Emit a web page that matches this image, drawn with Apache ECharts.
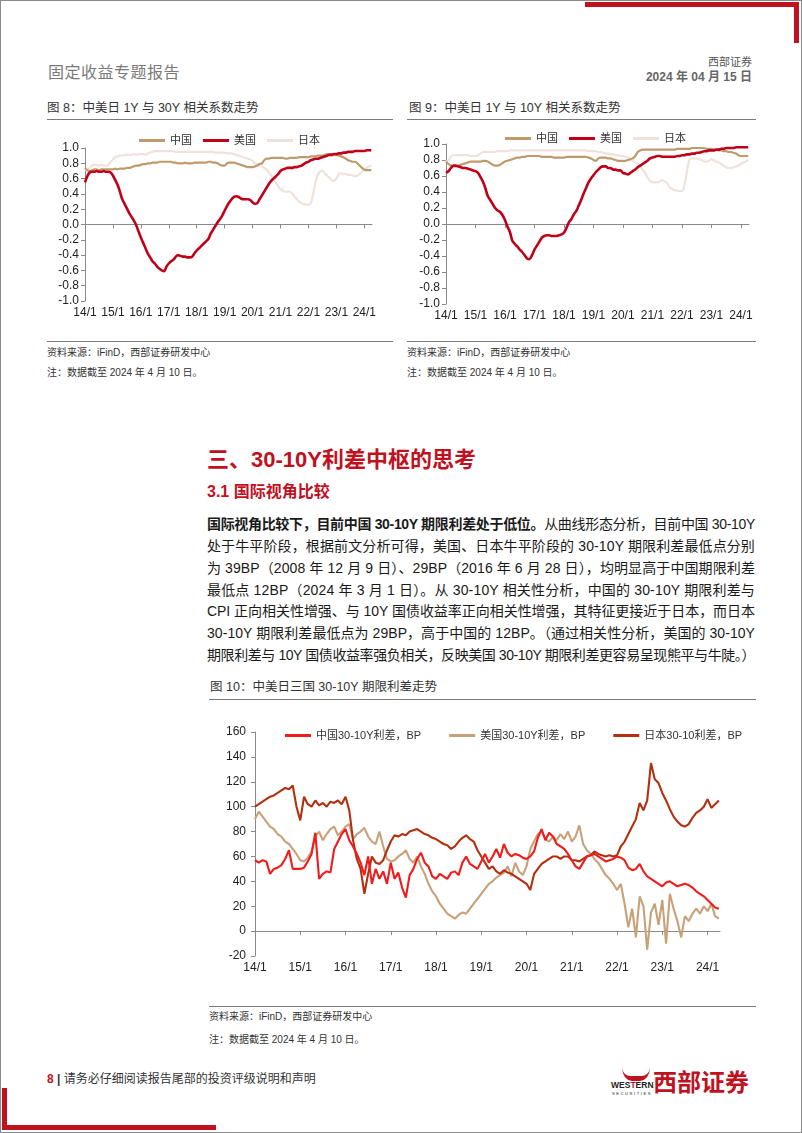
<!DOCTYPE html>
<html><head><meta charset="utf-8">
<script src="https://cdn.jsdelivr.net/npm/echarts@6/dist/echarts.min.js"></script>
<style>
html,body{margin:0;padding:0;background:#fff;}
#page{position:relative;width:802px;height:1133px;overflow:hidden;font-family:"Liberation Sans","Noto Sans CJK SC",sans-serif;color:#222;background:#fff;}
.abs{position:absolute;white-space:nowrap;}
.rule{position:absolute;height:1px;background:#7a7a7a;}
.red{position:absolute;background:#C0111F;}
.src{position:absolute;font-size:10px;line-height:12px;color:#333;white-space:nowrap;}
.ftitle{position:absolute;font-size:12.5px;line-height:16px;color:#333;white-space:nowrap;}
.pl{position:absolute;left:207px;font-size:14px;line-height:22px;color:#1a1a1a;white-space:nowrap;display:inline-block;}
.chart{position:absolute;}
</style></head>
<body><div id="page">
<div style="position:absolute;left:0;top:0;width:800px;height:1131px;border:1px solid #8a8a8a;"></div>
<div class="red" style="left:585px;top:2px;width:214px;height:5px;"></div>
<div class="red" style="left:794px;top:2px;width:5px;height:41px;"></div>
<div class="red" style="left:2px;top:1088px;width:5px;height:42px;"></div>
<div class="red" style="left:2px;top:1125px;width:214px;height:5px;"></div>

<div class="abs" style="left:48px;top:63px;font-size:16px;line-height:20px;color:#7a7a7a;letter-spacing:0.5px;">固定收益专题报告</div>
<div class="abs" style="right:50px;top:55px;font-size:11px;line-height:14px;color:#555;">西部证券</div>
<div class="abs" style="right:50px;top:70px;font-size:12px;line-height:14px;color:#666;font-weight:bold;">2024 年 04 月 15 日</div>

<div class="ftitle" style="left:47px;top:100px;">图 8：中美日 1Y 与 30Y 相关系数走势</div>
<div class="rule" style="left:47px;top:119px;width:346px;"></div>
<div class="ftitle" style="left:409px;top:100px;">图 9：中美日 1Y 与 10Y 相关系数走势</div>
<div class="rule" style="left:407px;top:119px;width:349px;"></div>

<div id="c8" class="chart" style="left:40px;top:125px;width:360px;height:205px;"></div>
<div id="c9" class="chart" style="left:400px;top:125px;width:400px;height:205px;"></div>

<div class="rule" style="left:47px;top:341px;width:346px;"></div>
<div class="rule" style="left:407px;top:341px;width:349px;"></div>
<div class="src" style="left:47px;top:347px;">资料来源：iFinD，西部证券研发中心</div>
<div class="src" style="left:47px;top:367px;">注：数据截至 2024 年 4 月 10 日。</div>
<div class="src" style="left:407px;top:347px;">资料来源：iFinD，西部证券研发中心</div>
<div class="src" style="left:407px;top:367px;">注：数据截至 2024 年 4 月 10 日。</div>

<div class="abs" style="left:207px;top:447px;font-size:22px;line-height:26px;color:#C0111F;font-weight:bold;">三、30-10Y利差中枢的思考</div>
<div class="abs" style="left:207px;top:482px;font-size:16px;line-height:20px;color:#C0111F;font-weight:bold;">3.1 国际视角比较</div>

<div class="pl jl" style="top:513px;"><b>国际视角比较下，目前中国 30-10Y 期限利差处于低位。</b>从曲线形态分析，目前中国 30-10Y</div>
<div class="pl jl" style="top:535px;">处于牛平阶段，根据前文分析可得，美国、日本牛平阶段的 30-10Y 期限利差最低点分别</div>
<div class="pl jl" style="top:557px;">为 39BP（2008 年 12 月 9 日）、29BP（2016 年 6 月 28 日），均明显高于中国期限利差</div>
<div class="pl jl" style="top:579px;">最低点 12BP（2024 年 3 月 1 日）。从 30-10Y 相关性分析，中国的 30-10Y 期限利差与</div>
<div class="pl jl" style="top:600px;">CPI 正向相关性增强、与 10Y 国债收益率正向相关性增强，其特征更接近于日本，而日本</div>
<div class="pl jl" style="top:622px;">30-10Y 期限利差最低点为 29BP，高于中国的 12BP。（通过相关性分析，美国的 30-10Y</div>
<div class="pl jl" style="top:644px;">期限利差与 10Y 国债收益率强负相关，反映美国 30-10Y 期限利差更容易呈现熊平与牛陡。）</div>

<div class="ftitle" style="left:210px;top:679px;">图 10：中美日三国 30-10Y 期限利差走势</div>
<div class="rule" style="left:209px;top:699px;width:547px;"></div>
<div id="c10" class="chart" style="left:200px;top:705px;width:560px;height:285px;"></div>
<div class="rule" style="left:209px;top:1006px;width:547px;"></div>
<div class="src" style="left:209px;top:1011px;">资料来源：iFinD，西部证券研发中心</div>
<div class="src" style="left:209px;top:1034px;">注：数据截至 2024 年 4 月 10 日。</div>

<div class="abs" style="left:47px;top:1071px;font-size:12px;line-height:16px;color:#333;"><span style="color:#C0111F;font-weight:bold;">8</span> <b>|</b> 请务必仔细阅读报告尾部的投资评级说明和声明</div>

<svg style="position:absolute;left:608px;top:1064px;" width="150" height="34" viewBox="0 0 150 34">
  <path d="M14 4 Q16 13 24 12 L32 12 Q40 13 42 4 Q41 16 32 17 L24 17 Q15 16 14 4 Z" fill="#C0111F"/>
  <text x="3" y="24" font-family="Liberation Sans" font-weight="bold" font-size="8.5" fill="#222">WES<tspan fill="#C0111F">T</tspan>ERN</text>
  <text x="4" y="31" font-family="Liberation Sans" font-size="4" fill="#222" letter-spacing="1.6">SECURITIES</text>
  <text x="45" y="27" font-family="Noto Sans CJK SC" font-weight="bold" font-size="24" fill="#C0111F">西部证券</text>
</svg>
</div>

<script>
// ---------- data (monthly, 2014-01 .. 2024-04) ----------
const xTickLabels = ['14/1','15/1','16/1','17/1','18/1','19/1','20/1','21/1','22/1','23/1','24/1'];
const xTickYears = [2014,2015,2016,2017,2018,2019,2020,2021,2022,2023,2024];

// Fig 8: 1Y vs 30Y correlation
const fig8China = [0.74,0.71,0.70,0.71,0.72,0.72,0.71,0.72,0.72,0.72,
0.72,0.72,0.72,0.73,0.72,0.73,0.73,0.73,0.74,0.74,
0.75,0.76,0.77,0.77,0.78,0.79,0.79,0.80,0.80,0.81,
0.81,0.81,0.82,0.82,0.82,0.82,0.82,0.82,0.81,0.81,
0.80,0.80,0.80,0.81,0.80,0.80,0.80,0.81,0.81,0.81,
0.81,0.81,0.81,0.82,0.82,0.81,0.81,0.80,0.78,0.77,
0.77,0.80,0.81,0.81,0.81,0.80,0.79,0.78,0.77,0.76,
0.75,0.75,0.75,0.76,0.77,0.79,0.80,0.84,0.86,0.86,
0.87,0.87,0.87,0.87,0.87,0.87,0.86,0.86,0.87,0.87,
0.87,0.87,0.88,0.88,0.88,0.88,0.88,0.89,0.89,0.89,
0.90,0.90,0.90,0.91,0.92,0.92,0.92,0.92,0.91,0.90,
0.89,0.88,0.86,0.84,0.83,0.82,0.82,0.80,0.77,0.74,
0.72,0.71,0.71,0.71];
const fig8US = [0.55,0.63,0.68,0.69,0.69,0.70,0.69,0.69,0.70,0.69,
0.69,0.68,0.64,0.58,0.52,0.43,0.33,0.27,0.21,0.15,
0.10,0.05,-0.01,-0.09,-0.17,-0.24,-0.31,-0.38,-0.43,-0.48,
-0.51,-0.55,-0.58,-0.60,-0.61,-0.55,-0.51,-0.48,-0.46,-0.42,
-0.40,-0.41,-0.42,-0.42,-0.43,-0.43,-0.42,-0.38,-0.34,-0.31,
-0.28,-0.25,-0.22,-0.19,-0.12,-0.07,-0.02,0.03,0.07,0.12,
0.18,0.24,0.29,0.33,0.36,0.37,0.36,0.34,0.33,0.33,
0.33,0.32,0.29,0.27,0.28,0.33,0.38,0.43,0.48,0.53,
0.57,0.60,0.63,0.66,0.70,0.72,0.73,0.74,0.74,0.74,
0.75,0.75,0.76,0.77,0.79,0.81,0.82,0.84,0.85,0.86,
0.86,0.87,0.88,0.89,0.90,0.91,0.91,0.92,0.92,0.93,
0.93,0.94,0.94,0.95,0.95,0.95,0.96,0.96,0.96,0.96,
0.96,0.97,0.97,0.97];
const fig8Japan = [0.73,0.70,0.74,0.77,0.78,0.78,0.77,0.78,0.77,0.77,
0.78,0.82,0.85,0.88,0.89,0.90,0.90,0.91,0.91,0.91,
0.91,0.92,0.91,0.92,0.92,0.92,0.91,0.93,0.94,0.95,
0.96,0.96,0.96,0.96,0.96,0.96,0.96,0.96,0.96,0.95,
0.95,0.95,0.95,0.95,0.95,0.95,0.95,0.95,0.95,0.95,
0.95,0.95,0.95,0.95,0.95,0.95,0.94,0.94,0.94,0.94,
0.94,0.93,0.93,0.93,0.92,0.91,0.90,0.89,0.88,0.87,
0.86,0.85,0.83,0.80,0.79,0.78,0.76,0.74,0.72,0.68,
0.64,0.60,0.55,0.50,0.46,0.44,0.43,0.43,0.43,0.40,
0.37,0.33,0.30,0.28,0.27,0.26,0.26,0.28,0.40,0.55,
0.65,0.69,0.70,0.67,0.64,0.61,0.58,0.57,0.60,0.66,
0.67,0.66,0.66,0.65,0.65,0.64,0.63,0.64,0.66,0.69,
0.72,0.74,0.76,0.77];

// Fig 9: 1Y vs 10Y correlation
const fig9China = [0.78,0.75,0.73,0.72,0.72,0.73,0.74,0.75,0.76,0.77,
0.78,0.78,0.78,0.78,0.78,0.79,0.79,0.78,0.76,0.74,
0.73,0.73,0.74,0.76,0.78,0.79,0.80,0.81,0.82,0.83,
0.83,0.84,0.84,0.85,0.85,0.85,0.85,0.85,0.85,0.84,
0.84,0.84,0.84,0.84,0.83,0.83,0.83,0.83,0.83,0.84,
0.84,0.84,0.84,0.84,0.84,0.84,0.84,0.84,0.83,0.82,
0.80,0.79,0.82,0.83,0.83,0.83,0.82,0.82,0.81,0.80,
0.79,0.79,0.79,0.79,0.80,0.81,0.82,0.85,0.90,0.92,
0.93,0.93,0.93,0.93,0.93,0.93,0.93,0.93,0.93,0.93,
0.93,0.93,0.93,0.93,0.94,0.94,0.94,0.94,0.94,0.94,
0.95,0.95,0.95,0.95,0.95,0.95,0.94,0.94,0.94,0.93,
0.93,0.92,0.92,0.91,0.91,0.90,0.90,0.89,0.88,0.86,
0.85,0.85,0.85,0.85];
const fig9US = [0.64,0.66,0.70,0.73,0.73,0.72,0.71,0.70,0.70,0.69,
0.68,0.67,0.66,0.64,0.59,0.53,0.45,0.35,0.30,0.25,
0.20,0.17,0.15,0.11,0.05,-0.03,-0.10,-0.21,-0.25,-0.28,
-0.32,-0.35,-0.39,-0.43,-0.44,-0.39,-0.32,-0.27,-0.22,-0.17,
-0.15,-0.14,-0.14,-0.15,-0.15,-0.15,-0.14,-0.13,-0.11,-0.05,
0.02,0.06,0.12,0.16,0.23,0.30,0.38,0.45,0.52,0.57,
0.61,0.65,0.68,0.71,0.72,0.72,0.70,0.70,0.68,0.68,
0.67,0.67,0.64,0.63,0.62,0.64,0.66,0.68,0.71,0.73,
0.75,0.77,0.79,0.82,0.83,0.84,0.85,0.85,0.84,0.84,
0.84,0.84,0.84,0.84,0.85,0.85,0.86,0.86,0.87,0.87,
0.88,0.88,0.89,0.89,0.90,0.91,0.91,0.92,0.92,0.92,
0.93,0.93,0.94,0.94,0.95,0.95,0.95,0.95,0.96,0.96,
0.96,0.96,0.96,0.96];
const fig9Japan = [0.78,0.80,0.84,0.86,0.86,0.86,0.86,0.86,0.86,0.86,
0.85,0.85,0.85,0.86,0.88,0.90,0.90,0.90,0.90,0.90,
0.90,0.91,0.91,0.91,0.91,0.91,0.92,0.92,0.92,0.92,
0.92,0.92,0.92,0.92,0.92,0.92,0.92,0.92,0.92,0.92,
0.92,0.92,0.92,0.92,0.92,0.92,0.92,0.92,0.92,0.92,
0.92,0.92,0.92,0.92,0.92,0.92,0.92,0.92,0.91,0.91,
0.91,0.91,0.90,0.90,0.89,0.88,0.88,0.87,0.87,0.86,
0.86,0.85,0.85,0.84,0.83,0.81,0.79,0.77,0.75,0.72,
0.68,0.64,0.58,0.54,0.52,0.52,0.52,0.53,0.55,0.53,
0.51,0.46,0.44,0.42,0.42,0.41,0.41,0.48,0.65,0.80,
0.82,0.82,0.82,0.81,0.80,0.78,0.78,0.79,0.81,0.80,
0.78,0.77,0.75,0.73,0.71,0.70,0.70,0.71,0.72,0.73,
0.75,0.77,0.78,0.80];

// Fig 10: 30-10Y spreads, BP
const fig10China = [57,55,57,56,46,50,51,53,58,65,
50,50,50,51,56,62,79,42,46,48,
47,66,72,78,82,73,68,62,55,45,
60,38,50,42,48,38,55,42,47,35,
27,45,50,58,63,55,52,44,42,46,
44,42,47,48,45,55,60,54,52,50,
56,62,55,60,66,59,70,63,60,62,
61,59,58,60,64,75,82,73,79,76,
70,68,66,62,57,52,50,55,60,61,
62,60,58,56,57,58,60,59,57,51,
49,50,54,48,44,42,40,38,36,39,
40,38,36,37,38,37,35,32,30,28,
25,22,19,18];
const fig10US = [90,96,92,88,84,82,78,76,72,70,
66,62,57,56,59,64,76,80,73,78,
82,84,77,80,84,86,74,78,80,83,
76,72,70,80,68,58,56,57,60,62,
65,58,55,60,52,46,38,32,28,22,
18,14,12,10,13,15,14,18,22,26,
30,34,38,40,43,45,47,52,44,55,
48,45,52,66,72,78,80,74,72,76,
73,78,74,80,72,76,85,70,65,62,
58,55,50,45,42,38,33,38,22,3,
18,-5,28,20,-15,15,22,5,25,-10,
30,18,8,-5,12,8,14,18,14,20,
16,22,12,10];
const fig10Japan = [100,102,104,106,108,109,111,113,115,114,
117,100,89,108,102,100,105,101,103,100,
104,103,105,102,108,97,73,58,50,30,
46,60,55,54,57,65,72,77,76,78,
77,80,81,82,80,78,77,75,74,72,
70,69,66,68,72,75,77,74,72,65,
60,55,50,52,48,46,49,47,46,44,
42,40,38,33,46,50,54,56,58,60,
60,58,60,60,57,57,56,58,60,61,
64,62,61,60,61,60,61,68,72,78,
84,90,103,97,105,135,122,119,111,105,
98,92,88,85,84,86,91,95,97,100,
106,99,102,105];

const FONT = '"Liberation Sans","Noto Sans CJK SC",sans-serif';
const X_MIN = 2014, X_MAX = 2014 + 123.3/12;
const toPairs = arr => arr.map((v,i) => [2014 + i/12, v]);

function build(o){
  const axisColor = '#8a8a8a';
  return {
    animation:false,
    textStyle:{fontFamily:FONT},
    legend:{top:o.legTop,left:o.legLeft,itemWidth:26,itemHeight:3,itemGap:o.legGap,icon:'rect',
      textStyle:{fontSize:o.legFont,color:'#333',fontFamily:FONT},data:o.series.map(s=>s.name)},
    grid:{left:o.gl,top:o.gt,width:o.gw,height:o.gh},
    xAxis:[
      {type:'value',min:X_MIN,max:X_MAX,position:'bottom',
       axisLine:{show:false,onZero:false},axisTick:{show:false},splitLine:{show:false},
       axisLabel:{customValues:xTickYears,formatter:v=>xTickLabels[Math.round(v)-2014]||'',
         fontSize:12,color:'#222',margin:6,fontFamily:FONT}},
      {type:'value',min:X_MIN,max:X_MAX,position:'bottom',
       axisLine:{show:true,onZero:true,lineStyle:{color:axisColor,width:1}},
       axisTick:{show:true,customValues:xTickYears,length:4,lineStyle:{color:axisColor}},
       axisLabel:{show:false},splitLine:{show:false}}
    ],
    yAxis:{type:'value',min:o.ymin,max:o.ymax,interval:o.yint,
      axisLine:{show:true,lineStyle:{color:axisColor,width:1}},
      axisTick:{show:true,length:4,lineStyle:{color:axisColor}},
      splitLine:{show:false},
      axisLabel:{formatter:o.yfmt,fontSize:12,color:'#222',margin:o.ymargin,fontFamily:FONT}},
    series:o.drawOrder.map(s=>({name:s.name,type:'line',data:toPairs(s.data),xAxisIndex:0,
      showSymbol:false,symbol:'none',smooth:o.smooth,z:s.z,
      lineStyle:{color:s.color,width:s.width},itemStyle:{color:s.color}}))
  };
}
const fmt1 = v => Math.abs(v)<1e-9 ? '0.0' : v.toFixed(1);

const s8 = [{name:'中国',data:fig8China,color:'#BF9A6C',width:2.2,z:3},
            {name:'美国',data:fig8US,color:'#C00018',width:2.6,z:4},
            {name:'日本',data:fig8Japan,color:'#EFE2DD',width:2.2,z:2}];
const s9 = [{name:'中国',data:fig9China,color:'#BF9A6C',width:2.2,z:3},
            {name:'美国',data:fig9US,color:'#C00018',width:2.6,z:4},
            {name:'日本',data:fig9Japan,color:'#EFE2DD',width:2.2,z:2}];
const s10 = [{name:'中国30-10Y利差，BP',data:fig10China,color:'#F21A1A',width:2.1,z:4},
             {name:'美国30-10Y利差，BP',data:fig10US,color:'#C8A07A',width:2.1,z:2},
             {name:'日本30-10利差，BP',data:fig10Japan,color:'#B2300F',width:2.1,z:3}];

echarts.init(document.getElementById('c8'),null,{renderer:'canvas'}).setOption(build({
  series:s8,drawOrder:[s8[2],s8[0],s8[1]],legTop:5,legLeft:94,legGap:11,legFont:11,
  gl:45,gt:23,gw:287,gh:153,ymin:-1,ymax:1,yint:0.2,yfmt:fmt1,ymargin:6,smooth:0.3}));
echarts.init(document.getElementById('c9'),null,{renderer:'canvas'}).setOption(build({
  series:s9,drawOrder:[s9[2],s9[0],s9[1]],legTop:3,legLeft:100,legGap:11,legFont:11,
  gl:46,gt:19,gw:303,gh:160,ymin:-1,ymax:1,yint:0.2,yfmt:fmt1,ymargin:6,smooth:0.3}));
echarts.init(document.getElementById('c10'),null,{renderer:'canvas'}).setOption(build({
  series:s10,drawOrder:[s10[1],s10[2],s10[0]],legTop:20,legLeft:80,legGap:28,legFont:11,
  gl:55,gt:27,gw:465,gh:224,ymin:-20,ymax:160,yint:20,yfmt:v=>String(v),ymargin:9,smooth:false}));

// justify paragraph lines to the text block width
const TARGET = 548;
document.querySelectorAll('.jl').forEach(el=>{
  el.style.letterSpacing='0px';
  const w = el.getBoundingClientRect().width;
  const n = [...el.textContent].length;
  el.style.letterSpacing = ((TARGET - w)/n) + 'px';
});
</script>
</body></html>
